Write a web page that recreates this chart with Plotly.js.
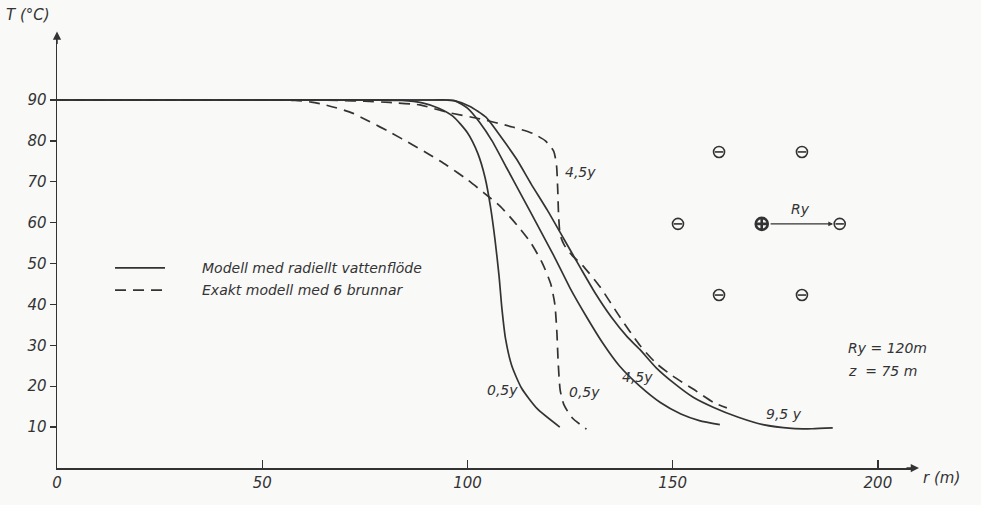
<!DOCTYPE html>
<html>
<head>
<meta charset="utf-8">
<script src="https://cdn.plot.ly/plotly-3.0.1.min.js"></script>
<style>html,body{margin:0;padding:0;background:#f9f9f8;}#chart{width:981px;height:505px;}</style>
</head>
<body>
<div id="chart"></div>
<script>
// --- data (r in m, T in °C) ---
const model05R = [0, 40, 78, 84, 89, 93, 96.5, 100, 102.5, 104.3, 105.6, 106.7, 107.7, 108.4, 109.3, 110.8, 113.2, 117, 122.5];
const model05T = [90, 90, 90, 89.9, 89.3, 88, 86, 82, 77, 71, 64, 56, 47, 39, 31.5, 25, 19.5, 14.5, 10];
const model45R = [0, 40, 90, 95, 97, 100, 103, 106, 109.5, 113, 117, 121, 125, 129, 133, 137, 142, 147, 152, 156.5, 161.5];
const model45T = [90, 90, 90, 90, 89.8, 88, 84.5, 80, 73.5, 67, 59.5, 52, 44, 37, 30.5, 25, 20, 16, 13.2, 11.6, 10.6];
const model95R = [0, 40, 90, 95, 97, 100.5, 104.5, 108.5, 112, 115.5, 119.5, 123.5, 127.5, 131, 135, 139, 142, 146, 150, 155, 160, 166, 172, 179, 184, 189];
const model95T = [90, 90, 90, 90, 89.8, 88.5, 85.8, 80.5, 75.5, 69.5, 63, 56, 49, 43, 37, 32, 29, 24.5, 21, 17.3, 14.8, 12.4, 10.6, 9.7, 9.6, 9.8];
const exact05R = [0, 30, 52, 58, 62, 65, 68, 72, 76, 81, 86.7, 91, 95, 100, 104, 108, 112, 115.5, 118.3, 120.3, 121.3, 121.8, 122.1, 122.6, 123.5, 125.5, 129];
const exact05T = [90, 90, 90, 89.9, 89.5, 88.9, 88.1, 86.8, 84.8, 82.2, 79, 76.5, 74, 70.5, 67.3, 64, 59.5, 55, 50, 45, 40, 33, 26, 19, 15.5, 12.3, 9.5];
const exact45R = [0, 30, 62, 69, 75, 81, 88.4, 95, 103, 111, 116, 119, 121, 121.7, 122, 122.2, 122.6, 123.6, 125.5, 128, 132.3, 137.1, 142, 146, 150, 155, 160, 163.2];
const exact45T = [90, 90, 90, 89.9, 89.7, 89.4, 88.8, 87, 85.4, 83.4, 81.8, 80, 77.5, 74, 68, 62, 57, 54.5, 52, 49.6, 44.3, 37, 30, 25.6, 22.5, 19.3, 16, 14.7];

const curveLabels = ['0,5y', '0,5y', '4,5y', '9,5 y', '4,5y'];
const curveLabelR = [108.6, 128.4, 141.5, 177.1, 127.6];
const curveLabelT = [19.1, 18.6, 22.3, 13.2, 72.4];

const wellR = [161.3, 181.5, 151.3, 190.7, 161.3, 181.5];
const wellT = [77.3, 77.3, 59.7, 59.7, 42.3, 42.3];
const centreWellR = [171.7];
const centreWellT = [59.7];

const xTicks = [0, 50, 100, 150, 200];
const yTicks = [10, 20, 30, 40, 50, 60, 70, 80, 90];
const legendNames = ['Modell med radiellt vattenflöde', 'Exakt modell med 6 brunnar'];

const INK = '#333333';
const FONT = 'DejaVu Sans, sans-serif';
const dash = '11px,7px';

function curve(r, t, isDash) {
  return {x: r, y: t, type: 'scatter', mode: 'lines', showlegend: false,
    line: {color: INK, width: 1.7, dash: isDash ? dash : 'solid', shape: 'spline', smoothing: 0.6},
    hoverinfo: 'skip'};
}

const traces = [
  curve(model05R, model05T, false),
  curve(model45R, model45T, false),
  curve(model95R, model95T, false),
  curve(exact05R, exact05T, true),
  curve(exact45R, exact45T, true),
  {x: wellR, y: wellT, type: 'scatter', mode: 'markers', showlegend: false, hoverinfo: 'skip',
    marker: {symbol: 'circle-open', size: 11, color: INK, line: {color: INK, width: 1.6}}},
  {x: wellR, y: wellT, type: 'scatter', mode: 'markers', showlegend: false, hoverinfo: 'skip',
    marker: {symbol: 'line-ew-open', size: 6, color: INK, line: {color: INK, width: 1.6}}},
  {x: centreWellR, y: centreWellT, type: 'scatter', mode: 'markers', showlegend: false, hoverinfo: 'skip',
    marker: {symbol: 'circle-cross-open', size: 12, color: INK, line: {color: INK, width: 2.6}}}
];

const labelFont = {family: FONT, size: 14, color: INK, style: 'italic'};
const annotations = [];
for (let i = 0; i < curveLabels.length; i++) {
  annotations.push({x: curveLabelR[i], y: curveLabelT[i], xref: 'x', yref: 'y', text: curveLabels[i],
    showarrow: false, font: labelFont});
}
// axis arrows (paper refs so they are not hidden outside the range)
annotations.push({x: 1.0058, y: 0, xref: 'paper', yref: 'paper', showarrow: true, text: '', ax: -14, ay: 0,
  arrowhead: 2, arrowsize: 1.1, arrowwidth: 1.5, arrowcolor: INK});
annotations.push({x: 0, y: 1.008, xref: 'paper', yref: 'paper', showarrow: true, text: '', ax: 0, ay: 14,
  arrowhead: 2, arrowsize: 1.1, arrowwidth: 1.5, arrowcolor: INK});
// axis titles
annotations.push({x: -0.062, y: 1.046, xref: 'paper', yref: 'paper', xanchor: 'left', yanchor: 'middle',
  text: 'T (°C)', showarrow: false, font: {family: FONT, size: 15, color: INK, style: 'italic'}});
annotations.push({x: 1.008, y: -0.023, xref: 'paper', yref: 'paper', xanchor: 'left', yanchor: 'middle',
  text: 'r (m)', showarrow: false, font: {family: FONT, size: 15, color: INK, style: 'italic'}});
// Ry arrow between wells
annotations.push({x: wellR[3] - 1.6, y: wellT[3], xref: 'x', yref: 'y', ax: centreWellR[0] + 1.8, ay: centreWellT[0],
  axref: 'x', ayref: 'y', showarrow: true, text: '', arrowhead: 2, arrowsize: 0.8, arrowwidth: 1.2, arrowcolor: INK});
annotations.push({x: (centreWellR[0] + wellR[3]) / 2, y: 63.3, xref: 'x', yref: 'y', text: 'Ry', showarrow: false,
  font: labelFont});
annotations.push({x: 192.3, y: 29.3, xref: 'x', yref: 'y', xanchor: 'left', text: 'Ry = 120m', showarrow: false,
  font: labelFont});
annotations.push({x: 192.3, y: 23.8, xref: 'x', yref: 'y', xanchor: 'left', text: 'z&nbsp;&nbsp;= 75 m', showarrow: false,
  font: labelFont});
// legend texts
annotations.push({x: 0.1669, y: 0.462, xref: 'paper', yref: 'paper', xanchor: 'left', text: legendNames[0], showarrow: false,
  font: labelFont});
annotations.push({x: 0.1669, y: 0.411, xref: 'paper', yref: 'paper', xanchor: 'left', text: legendNames[1], showarrow: false,
  font: labelFont});

const shapes = [
  {type: 'line', xref: 'paper', yref: 'paper', x0: 0.0677, x1: 0.126, y0: 0.462, y1: 0.462, line: {color: INK, width: 1.7}},
  {type: 'line', xref: 'paper', yref: 'paper', x0: 0.0677, x1: 0.126, y0: 0.411, y1: 0.411, line: {color: INK, width: 1.7, dash: dash}}
];

const layout = {
  width: 981, height: 505,
  margin: {l: 57, r: 67, t: 35, b: 37},
  paper_bgcolor: '#f9f9f8', plot_bgcolor: '#f9f9f8',
  showlegend: false,
  font: {family: FONT, color: INK},
  xaxis: {range: [0, 208.8], showgrid: false, zeroline: false, showline: true, linecolor: INK, linewidth: 1.5,
    ticks: 'inside', ticklen: 8, tickwidth: 1.3, tickcolor: INK, tickvals: xTicks, ticktext: xTicks.map(String),
    tickfont: {family: FONT, size: 15, color: INK, style: 'italic'}},
  yaxis: {range: [0, 105.9], showgrid: false, zeroline: false, showline: true, linecolor: INK, linewidth: 1.5,
    ticks: 'outside', ticklen: 6, tickwidth: 1.3, tickcolor: INK, tickvals: yTicks, ticktext: yTicks.map(String),
    tickfont: {family: FONT, size: 15, color: INK, style: 'italic'}},
  annotations: annotations,
  shapes: shapes
};

Plotly.newPlot('chart', traces, layout, {staticPlot: true, displayModeBar: false});
</script>
</body>
</html>
